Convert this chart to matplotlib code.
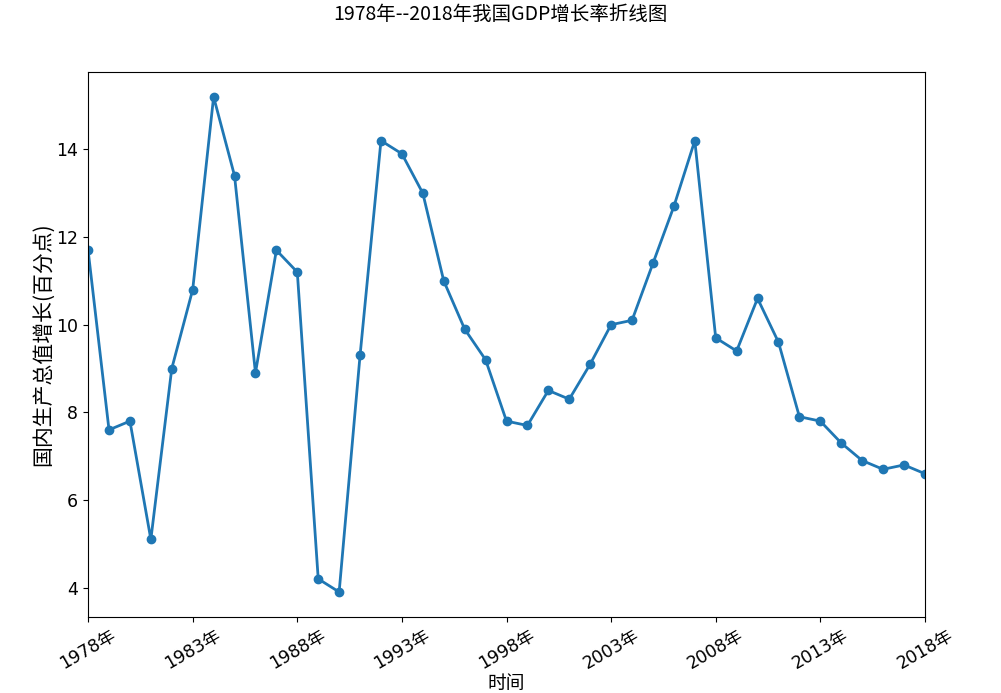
import numpy as np
import matplotlib
matplotlib.use('Agg')
import matplotlib.pyplot as plt

plt.rcParams['font.family'] = ['DejaVu Sans', 'Noto Sans CJK SC']
plt.rcParams['axes.unicode_minus'] = False

# GDP growth rate, 1978-2018
years = list(range(1978, 2019))
growth = [11.7, 7.6, 7.8, 5.1, 9.0, 10.8, 15.2, 13.4, 8.9, 11.7,
          11.2, 4.2, 3.9, 9.3, 14.2, 13.9, 13.0, 11.0, 9.9, 9.2,
          7.8, 7.7, 8.5, 8.3, 9.1, 10.0, 10.1, 11.4, 12.7, 14.2,
          9.7, 9.4, 10.6, 9.6, 7.9, 7.8, 7.3, 6.9, 6.7, 6.8, 6.6]
tick_years = list(range(1978, 2019, 5))
tick_labels = [f"{y}年" for y in tick_years]

cjk = ['Noto Sans CJK SC', 'DejaVu Sans']

fig = plt.figure(figsize=(10.01, 6.93), dpi=100)
ax = fig.add_axes([0.088, 0.110, 0.836, 0.786])
ax.plot(years, growth, marker='o', markersize=6, linewidth=2, color='#1f77b4')
ax.set_xlim(1978, 2018)
ax.set_xticks(tick_years)
ax.set_xticklabels(tick_labels, rotation=30, fontsize=12.5)
ax.tick_params(axis='y', labelsize=12.5)
ax.set_xlabel('时间', fontsize=13.5, family=cjk, labelpad=0)
ax.set_ylabel('国内生产总值增长(百分点)', fontsize=15, family=cjk, labelpad=2)
fig.suptitle('1978年--2018年我国GDP增长率折线图', fontsize=14, family=cjk, y=0.995)

fig.savefig('out.png', dpi=100)
